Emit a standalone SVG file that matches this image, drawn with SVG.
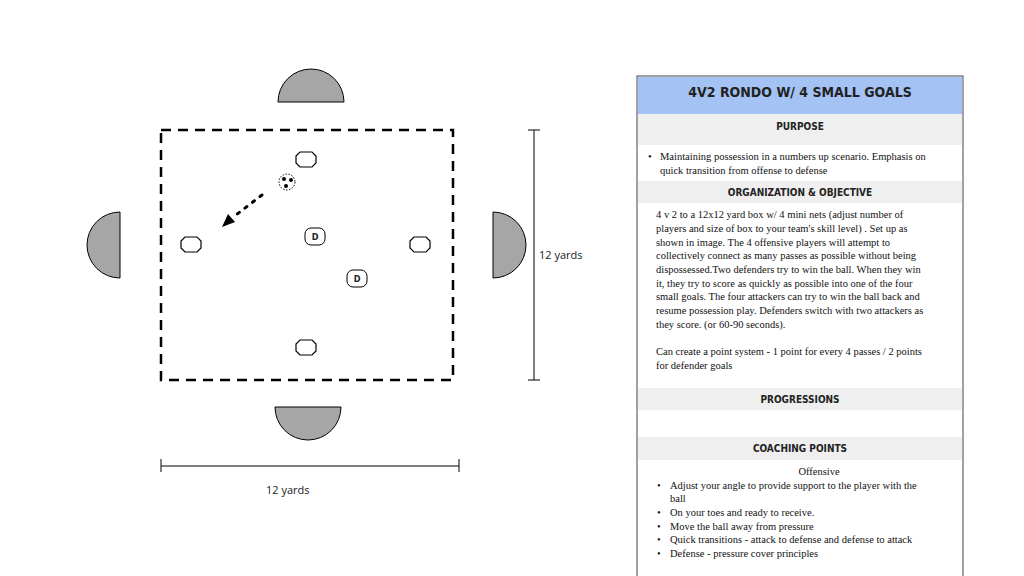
<svg xmlns="http://www.w3.org/2000/svg" width="1024" height="576" viewBox="0 0 1024 576">
<style>
.g{fill:#a6a6a6;stroke:#000;stroke-width:1}
.p{fill:#fff;stroke:#000;stroke-width:1.2}
.t{font-family:"Liberation Serif",serif;font-size:10.5px;fill:#111}
.h{font-family:"DejaVu Sans Condensed","DejaVu Sans",sans-serif;font-weight:bold;font-size:10px;fill:#222;text-anchor:middle}
.s{font-family:"Open Sans",sans-serif;font-size:11px;fill:#222}
.band{fill:#efefef}
</style>
<rect width="1024" height="576" fill="#fff"/>
<g id="field">
<rect x="161" y="130" width="292" height="250" fill="none" stroke="#000" stroke-width="2.5" stroke-dasharray="10,7"/>
</g>
<g id="goals">
<path class="g" d="M278,102 A33,33 0 0 1 344,102 Z"/>
<path class="g" d="M275,407 A33,33 0 0 0 341,407 Z"/>
<path class="g" d="M120,212 A33,33 0 0 0 120,278 Z"/>
<path class="g" d="M493,212 A33,33 0 0 1 493,278 Z"/>
</g>
<g id="players">
<path class="p" d="M300,152 h12 l4,4 v7 l-4,4 h-12 l-4,-4 v-7 z"/>
<path class="p" d="M185,237 h12 l4,4 v7 l-4,4 h-12 l-4,-4 v-7 z"/>
<path class="p" d="M414,237 h12 l4,4 v7 l-4,4 h-12 l-4,-4 v-7 z"/>
<path class="p" d="M300,340 h12 l4,4 v7 l-4,4 h-12 l-4,-4 v-7 z"/>
</g>
<g id="defenders">
<rect x="305" y="228" width="20" height="17" rx="6" fill="#fff" stroke="#000"/>
<text x="315" y="240" class="h" style="font-size:9px">D</text>
<rect x="347" y="270" width="20" height="17" rx="6" fill="#fff" stroke="#000"/>
<text x="357" y="282" class="h" style="font-size:9px">D</text>
</g>
<g id="ball">
<circle cx="287" cy="182" r="8" fill="#fff" stroke="#000" stroke-dasharray="1.5,1.5"/>
<circle cx="284" cy="179" r="2"/><circle cx="291" cy="180" r="2"/><circle cx="286" cy="186" r="2"/>
</g>
<g id="connectors">
<line x1="262" y1="195" x2="232" y2="218" stroke="#000" stroke-width="3" stroke-dasharray="2.5,7" stroke-linecap="round"/>
<polygon points="222,227 228,214 235,222"/>
<line x1="534" y1="130" x2="534" y2="380" stroke="#000"/>
<line x1="528" y1="130" x2="540" y2="130" stroke="#000"/>
<line x1="528" y1="380" x2="540" y2="380" stroke="#000"/>
<line x1="161" y1="466" x2="459" y2="466" stroke="#000"/>
<line x1="161" y1="459" x2="161" y2="472" stroke="#000"/>
<line x1="459" y1="459" x2="459" y2="472" stroke="#000"/>
</g>
<text x="539" y="259" class="s">12 yards</text>
<text x="266" y="494" class="s">12 yards</text>
<g id="panel">
<rect x="637" y="76" width="326" height="510" fill="#fff" stroke="#444"/>
<rect x="638" y="77" width="324" height="37" fill="#a4c2f4"/>
<text x="800" y="97" class="h" style="font-size:14px">4V2 RONDO W/ 4 SMALL GOALS</text>
<rect x="638" y="114" width="324" height="31" class="band"/>
<text x="800" y="130" class="h">PURPOSE</text>
<text x="648" y="160" class="t">•</text>
<text x="660" y="160" class="t">Maintaining possession in a numbers up scenario. Emphasis on</text>
<text x="660" y="174" class="t">quick transition from offense to defense</text>
<rect x="638" y="181" width="324" height="22" class="band"/>
<text x="800" y="196" class="h">ORGANIZATION &amp; OBJECTIVE</text>
<text class="t">
<tspan x="656" y="218">4 v 2  to a 12x12 yard box w/ 4 mini nets (adjust number of</tspan>
<tspan x="656" y="232">players and size of box to your team's skill level) . Set up as</tspan>
<tspan x="656" y="246">shown in image. The 4 offensive players will attempt to</tspan>
<tspan x="656" y="259">collectively connect as many passes as possible without being</tspan>
<tspan x="656" y="273">dispossessed.Two defenders try to win the ball. When they win</tspan>
<tspan x="656" y="287">it, they try to score as quickly as possible into one of the four</tspan>
<tspan x="656" y="300">small goals. The four attackers can try to win the ball back and</tspan>
<tspan x="656" y="314">resume possession play. Defenders switch with two attackers as</tspan>
<tspan x="656" y="328">they score. (or 60-90 seconds).</tspan>
<tspan x="656" y="355">Can create a point system - 1 point for every 4 passes / 2 points</tspan>
<tspan x="656" y="369">for defender goals</tspan>
</text>
<rect x="638" y="388" width="324" height="22" class="band"/>
<text x="800" y="403" class="h">PROGRESSIONS</text>
<rect x="638" y="437" width="324" height="23" class="band"/>
<text x="800" y="452" class="h">COACHING POINTS</text>
<text x="819" y="475" class="t" text-anchor="middle">Offensive</text>
<text class="t">
<tspan x="657" y="489">•</tspan><tspan x="670" y="489">Adjust your angle to provide support to the player with the</tspan>
<tspan x="670" y="502">ball</tspan>
<tspan x="657" y="516">•</tspan><tspan x="670" y="516">On your toes and ready to receive.</tspan>
<tspan x="657" y="530">•</tspan><tspan x="670" y="530">Move the ball away from pressure</tspan>
<tspan x="657" y="543">•</tspan><tspan x="670" y="543">Quick transitions - attack to defense and defense to attack</tspan>
<tspan x="657" y="557">•</tspan><tspan x="670" y="557">Defense - pressure cover principles</tspan>
</text>
</g>
</svg>
